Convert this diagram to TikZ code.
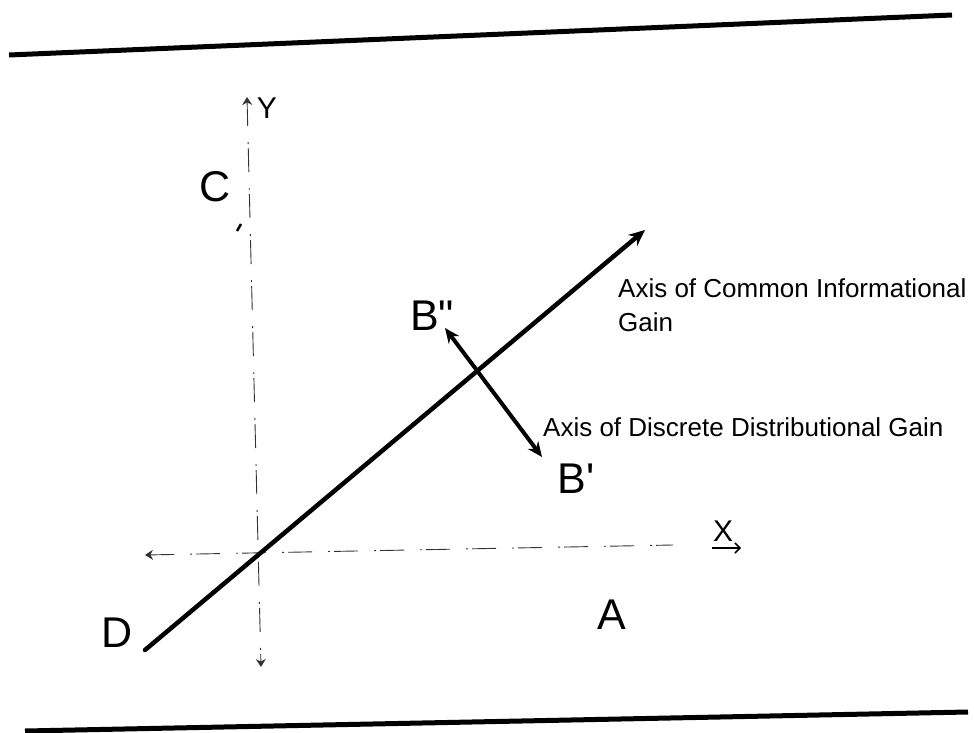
\documentclass[tikz,border=0pt]{standalone}
\usepackage{fontspec}
\setmainfont{Liberation Sans}
\usetikzlibrary{arrows.meta}
\begin{document}
\begin{tikzpicture}[x=1pt,y=-1pt,
  rule/.style={line width=5pt},
  axisline/.style={line width=0.9pt, black!80, dash pattern=on 24pt off 16pt on 2pt off 4pt},
  smalltip/.style={arrows={-{Stealth[length=8pt,width=10pt]}}},
  thick axis/.style={line width=4.5pt, -{Stealth[length=16pt,width=14pt,inset=5pt]}},
  big/.style={font=\fontsize{43}{43}\selectfont, inner sep=0pt},
  small/.style={font=\fontsize{30}{30}\selectfont, inner sep=0pt},
  lbl/.style={font=\fontsize{26}{30}\selectfont, inner sep=0pt, anchor=west}]
\useasboundingbox (0,0) rectangle (974,733);
% rules
\coordinate (t1) at (9,55); \coordinate (t2) at (952,15);
\coordinate (b1) at (25,731); \coordinate (b2) at (968,712);
\draw[rule] (t1) -- (t2);
\draw[rule] (b1) -- (b2);
% axes
\coordinate (yt) at (247,97); \coordinate (yb) at (261,667);
\coordinate (xl) at (145,555); \coordinate (xr) at (673,545);
\draw[axisline, {Stealth[length=8pt,width=10pt]}-{Stealth[length=8pt,width=10pt]}] (yt) -- (yb);
\draw[axisline, {Stealth[length=8pt,width=10pt]}-] (xl) -- (xr);
% main axis
\coordinate (d) at (145,650); \coordinate (cm) at (645,230);
\draw[thick axis, line cap=round] (d) -- (cm);
% discrete axis
\coordinate (b2p) at (445,328); \coordinate (b1p) at (542,457);
\draw[line width=4pt, {Stealth[length=15pt,width=13pt,inset=5pt]}-{Stealth[length=15pt,width=13pt,inset=5pt]}] (b2p) -- (b1p);
% stray tick
\coordinate (s1) at (237,231); \coordinate (s2) at (241,224);
\draw[line width=2.5pt] (s1) -- (s2);
% labels
\node[big] (C) at (215,187) {C};
\node[big] (Bpp) at (432,316) {B\textquotedbl};
\node[big] (Bp) at (576,479) {B\textquotesingle};
\node[big] (D) at (117,633) {D};
\node[big] (A) at (612,615) {A};
\node[small] (Y) at (267,108) {Y};
\node[small] (X) at (723,531) {X};
\coordinate (xa1) at (712,548); \coordinate (xa2) at (741,548);
\draw[line width=1.5pt, -{Straight Barb[length=5pt,width=10pt]}] (xa1) -- (xa2);
\node[lbl] (lc) at (618,288) {Axis of Common Informational};
\node[lbl] (lg) at (618,322) {Gain};
\node[lbl] (ld) at (543,427) {Axis of Discrete Distributional Gain};
\end{tikzpicture}
\end{document}
